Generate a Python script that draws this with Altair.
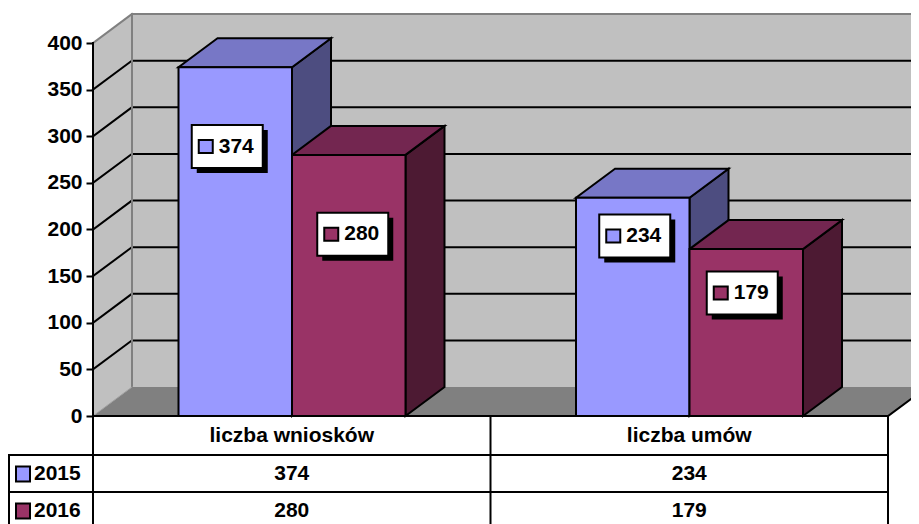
import altair as alt
import pandas as pd

# ---------------- data ----------------
categories = ["liczba wniosków", "liczba umów"]
series = ["2015", "2016"]
values_2015 = [374, 234]
values_2016 = [280, 179]
y_ticks = [0, 50, 100, 150, 200, 250, 300, 350, 400]

front_color = ["#9999FF", "#993366"]
top_color = ["#7777C6", "#732650"]
side_color = ["#4D4D80", "#4D1A33"]
WALL = "#C0C0C0"
FLOOR = "#808080"
EDGE = "#808080"
FONT = "Liberation Sans"

values = {"2015": values_2015, "2016": values_2016}

# ---------------- layout ----------------
PX = 0.9325            # pixels per value unit
X0, XR, XE = 93, 888, 911
TOP_PAGE, ZERO_PAGE = 8, 416
H = 516
W = XE - X0
Y_MAX = (ZERO_PAGE - TOP_PAGE) / PX
Y_MIN = Y_MAX - H / PX
DX = 39
DV = 29 / PX
CAT_W = (XR - X0) / 2
GAP = 85.5
BAR_W = 113.5
WALL_X = X0 + DX


def pv(page_y):
    return (ZERO_PAGE - page_y) / PX


# label box layout: (x offset from bar centre in px, centre height in value units)
label_layout = [(-8, 289), (4, 195), (2, 193), (-4, 132)]
BOX_HW, BOX_HH = 35.5, 21.5

xs = alt.Scale(domain=[X0, XE], nice=False, zero=False)
ys = alt.Scale(domain=[Y_MIN, Y_MAX], nice=False, zero=False)
yaxis = alt.Axis(values=y_ticks, domain=False, grid=False, ticks=True, tickSize=7,
                 tickWidth=2, tickColor="black", labelFont=FONT, labelFontSize=21,
                 labelFontWeight="bold", labelColor="black", labelPadding=4, title=None)


def X(f="x"):
    return alt.X(f"{f}:Q", scale=xs, axis=None, stack=None)


def Y(f="y"):
    return alt.Y(f"{f}:Q", scale=ys, axis=yaxis, stack=None)


def X2(f="x2"):
    return alt.X2(f"{f}:Q")


def Y2(f="y2"):
    return alt.Y2(f"{f}:Q")


# ---------------- walls ----------------
back_wall = alt.Chart(pd.DataFrame([{"x": WALL_X, "x2": 935, "y": DV, "y2": 400 + DV}])).mark_rect(
    fill=WALL).encode(x=X(), x2=X2(), y=Y(), y2=Y2())

left_wall = alt.Chart(pd.DataFrame([
    {"x": X0, "y": 0, "y2": 400},
    {"x": WALL_X, "y": DV, "y2": 400 + DV},
])).mark_area(orient="vertical", fill=WALL).encode(x=X(), y=Y(), y2=Y2())

floor = alt.Chart(pd.DataFrame([
    {"y": 0, "x": X0, "x2": XR},
    {"y": DV, "x": WALL_X, "x2": XR + DX},
])).mark_area(orient="horizontal", fill=FLOOR).encode(y=Y(), x=X(), x2=X2())

wall_rules = []
for t in y_ticks[1:]:
    c = "black" if t < 400 else EDGE
    wall_rules.append({"x": WALL_X, "x2": 935, "y": t + DV, "y2": t + DV, "c": c, "w": 2})
    wall_rules.append({"x": X0, "x2": WALL_X, "y": t, "y2": t + DV, "c": c, "w": 2})
wall_rules.append({"x": WALL_X, "x2": WALL_X, "y": DV, "y2": 400 + DV, "c": EDGE, "w": 2})
wall_rules.append({"x": X0, "x2": WALL_X, "y": 0, "y2": DV, "c": "#A0A0A0", "w": 1})
wall_rules.append({"x": XR, "x2": XR + DX, "y": 0, "y2": DV, "c": "black", "w": 2})


def rules(rows):
    return alt.Chart(pd.DataFrame(rows)).mark_rule(strokeCap="square").encode(
        x=X(), x2=X2(), y=Y(), y2=Y2(),
        color=alt.Color("c:N", scale=None), size=alt.Size("w:Q", scale=None))


# ---------------- bars ----------------
sides, tops, fronts, boxes, keys, texts = [], [], [], [], [], []
i = 0
for g, cat in enumerate(categories):
    for s, ser in enumerate(series):
        v = values[ser][g]
        x0 = X0 + g * CAT_W + GAP + s * BAR_W
        x1 = x0 + BAR_W
        fid = f"{cat}-{ser}"
        sides += [{"f": fid, "x": x1, "y": 0, "y2": v, "c": side_color[s]},
                  {"f": fid, "x": x1 + DX, "y": DV, "y2": v + DV, "c": side_color[s]}]
        tops += [{"f": fid, "y": v, "x": x0, "x2": x1, "c": top_color[s]},
                 {"f": fid, "y": v + DV, "x": x0 + DX, "x2": x1 + DX, "c": top_color[s]}]
        fronts.append({"x": x0, "x2": x1, "y": 0, "y2": v, "c": front_color[s]})
        ox, ly = label_layout[i]
        cx = (x0 + x1) / 2 + ox
        boxes.append({"x": cx - BOX_HW, "x2": cx + BOX_HW,
                      "y": ly - BOX_HH / PX, "y2": ly + BOX_HH / PX})
        keys.append({"x": cx - BOX_HW + 7, "x2": cx - BOX_HW + 21,
                     "y": ly - 6.5 / PX, "y2": ly + 6.5 / PX, "c": front_color[s]})
        texts.append({"x": cx + 9, "y": ly, "t": str(v)})
        i += 1

side_layer = alt.Chart(pd.DataFrame(sides)).mark_area(
    orient="vertical", stroke="black", strokeWidth=2, strokeJoin="miter").encode(
    x=X(), y=Y(), y2=Y2(), detail="f:N", color=alt.Color("c:N", scale=None))
top_layer = alt.Chart(pd.DataFrame(tops)).mark_area(
    orient="horizontal", stroke="black", strokeWidth=2, strokeJoin="miter").encode(
    y=Y(), x=X(), x2=X2(), detail="f:N", color=alt.Color("c:N", scale=None))
front_layer = alt.Chart(pd.DataFrame(fronts)).mark_rect(
    stroke="black", strokeWidth=2).encode(
    x=X(), x2=X2(), y=Y(), y2=Y2(), color=alt.Color("c:N", scale=None))

# ---------------- data table ----------------
R1, R2 = pv(455), pv(492)
table_rules = [
    {"x": X0, "x2": X0, "y": 400, "y2": Y_MIN, "c": "black", "w": 2},
    {"x": X0, "x2": XR, "y": 0, "y2": 0, "c": "black", "w": 2},
    {"x": 8, "x2": XR, "y": R1, "y2": R1, "c": "black", "w": 2},
    {"x": 8, "x2": XR, "y": R2, "y2": R2, "c": "black", "w": 2},
    {"x": 9, "x2": 9, "y": R1, "y2": Y_MIN, "c": "black", "w": 2},
    {"x": (XR + X0) / 2, "x2": (XR + X0) / 2, "y": 0, "y2": Y_MIN, "c": "black", "w": 2},
    {"x": XR, "x2": XR, "y": 0, "y2": Y_MIN, "c": "black", "w": 2},
]

row_y = [pv(474), pv(511)]
table_text = []
for g, cat in enumerate(categories):
    cx = X0 + g * CAT_W + CAT_W / 2
    table_text.append({"x": cx, "y": pv(436), "t": cat})
    for s, ser in enumerate(series):
        table_text.append({"x": cx, "y": row_y[s], "t": str(values[ser][g])})
row_labels = [{"x": 34, "y": row_y[s], "t": ser} for s, ser in enumerate(series)]
row_keys = [{"x": 16, "x2": 30, "y": row_y[s] - 7.5 / PX, "y2": row_y[s] + 7.5 / PX,
             "c": front_color[s]} for s in range(len(series))]

txt_kw = dict(font=FONT, fontSize=21, fontWeight="bold", color="black", baseline="middle")

table_text_layer = alt.Chart(pd.DataFrame(table_text)).mark_text(align="center", **txt_kw).encode(
    x=X(), y=Y(), text="t:N")
row_label_layer = alt.Chart(pd.DataFrame(row_labels)).mark_text(align="left", **txt_kw).encode(
    x=X(), y=Y(), text="t:N")
row_key_layer = alt.Chart(pd.DataFrame(row_keys)).mark_rect(stroke="black", strokeWidth=2).encode(
    x=X(), x2=X2(), y=Y(), y2=Y2(), color=alt.Color("c:N", scale=None))

# ---------------- value labels ----------------
box_df = pd.DataFrame(boxes)
shadow_layer = alt.Chart(box_df).mark_rect(
    fill="black", xOffset=5, x2Offset=5, yOffset=5, y2Offset=5).encode(
    x=X(), x2=X2(), y=Y(), y2=Y2())
box_layer = alt.Chart(box_df).mark_rect(fill="white", stroke="black", strokeWidth=2).encode(
    x=X(), x2=X2(), y=Y(), y2=Y2())
key_layer = alt.Chart(pd.DataFrame(keys)).mark_rect(stroke="black", strokeWidth=2).encode(
    x=X(), x2=X2(), y=Y(), y2=Y2(), color=alt.Color("c:N", scale=None))
label_text_layer = alt.Chart(pd.DataFrame(texts)).mark_text(
    align="center", font=FONT, fontSize=21, fontWeight="bold", color="black",
    baseline="middle").encode(x=X(), y=Y(), text="t:N")

chart = alt.layer(
    back_wall, left_wall, floor, rules(wall_rules),
    side_layer, top_layer, front_layer,
    rules(table_rules), table_text_layer, row_label_layer, row_key_layer,
    shadow_layer, box_layer, key_layer, label_text_layer,
).properties(
    width=W, height=H,
    autosize=alt.AutoSizeParams(type="none"),
    padding={"left": X0 - 8, "top": 0, "right": 0, "bottom": 0},
    background="white",
).configure_view(stroke=None)

chart.save("out.html", embed_options={"renderer": "svg", "actions": False})
